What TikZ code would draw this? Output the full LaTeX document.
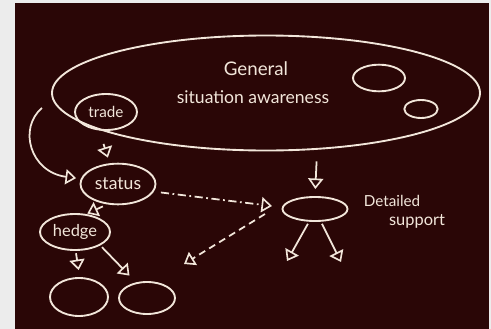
\documentclass[tikz,border=0pt]{standalone}
\usepackage{fontspec}
\setmainfont{Lato}
\usetikzlibrary{shapes.geometric,arrows.meta}
\definecolor{board}{HTML}{2A0606}
\definecolor{chalk}{HTML}{F2E6DA}
\definecolor{frame}{HTML}{ECECEC}

\begin{document}
\begin{tikzpicture}[x=0.03cm,y=-0.03cm,
    blob/.style={ellipse,draw=chalk,line width=1.6pt,inner sep=0pt,text=chalk,font=\fontsize{14}{16}\selectfont},
    chalkarrow/.style={draw=chalk,line width=1.5pt,-{Triangle[open,length=9pt,width=13pt,line width=1.4pt]}},
    word/.style={text=chalk,font=\fontsize{14}{16}\selectfont}]

    % board
    \fill[frame] (0,0) rectangle (491,329);
    \fill[board] (15,3) rectangle (489,329);
    \useasboundingbox (0,0) rectangle (491,329);

    % define coordinates
    \coordinate (bend) at (42,108) ;
    \coordinate (hub) at (272,206) ;
    \coordinate (hub2) at (265,214) ;
    \coordinate (far) at (184,264) ;
    \coordinate (dl) at (287,261) ;
    \coordinate (dr) at (341,262) ;

    % ellipses
    \node[blob,minimum width=12.84cm,minimum height=3.45cm] (big) at (266,93) {};
    \node[blob,minimum width=1.56cm,minimum height=0.8cm] (spot1) at (379,78) {};
    \node[blob,minimum width=1.0cm,minimum height=0.54cm] (spot2) at (421,109) {};
    \node[blob,minimum width=1.86cm,minimum height=1.08cm,font=\fontsize{13}{15}\selectfont] (trade) at (106,112) {trade};
    \node[blob,minimum width=2.25cm,minimum height=1.22cm,font=\fontsize{15}{17}\selectfont] (status) at (118,184) {status};
    \node[blob,minimum width=2.1cm,minimum height=1.08cm] (hedge) at (75,232) {hedge};
    \node[blob,minimum width=1.74cm,minimum height=1.14cm] (leaf1) at (79,297) {};
    \node[blob,minimum width=1.68cm,minimum height=0.96cm] (leaf2) at (147,298) {};
    \node[blob,minimum width=1.95cm,minimum height=0.72cm] (detail) at (315,209) {};

    % labels
    \node[word,font=\fontsize{16}{18}\selectfont] (gen) at (256,69) {General};
    \node[word,font=\fontsize{15}{17}\selectfont] (sit) at (253,97) {situation awareness};
    \node[word,font=\fontsize{13}{15}\selectfont] (det) at (392,201) {Detailed};
    \node[word] (sup) at (417,221) {support};

    % arrows
    \draw[chalkarrow,shorten <=12pt,shorten >=5pt] (trade.250) -- (status.112);
    \draw[chalkarrow,shorten >=4pt] (bend) .. controls (18,128) and (30,172) .. (status.172);
    \draw[chalkarrow,shorten <=4pt,shorten >=1pt] (status.242) -- (hedge.58);
    \draw[chalkarrow,shorten <=2pt,shorten >=6pt] (hedge.272) -- (leaf1.88);
    \draw[chalkarrow,shorten <=2pt,shorten >=8pt] (hedge.-28) -- (leaf2.125);
    \draw[chalkarrow,shorten <=10pt,shorten >=6pt] (big.312) -- (detail.north);
    \draw[chalkarrow,shorten <=2pt] (detail.245) -- (dl);
    \draw[chalkarrow,shorten <=2pt] (detail.295) -- (dr);

    % dashed links
    \draw[chalkarrow,dash pattern=on 7pt off 3pt on 1.5pt off 3pt,shorten <=6pt] (status.-12) -- (hub);
    \draw[chalkarrow,dash pattern=on 6pt off 4pt] (hub2) -- (far);

\end{tikzpicture}
\end{document}
